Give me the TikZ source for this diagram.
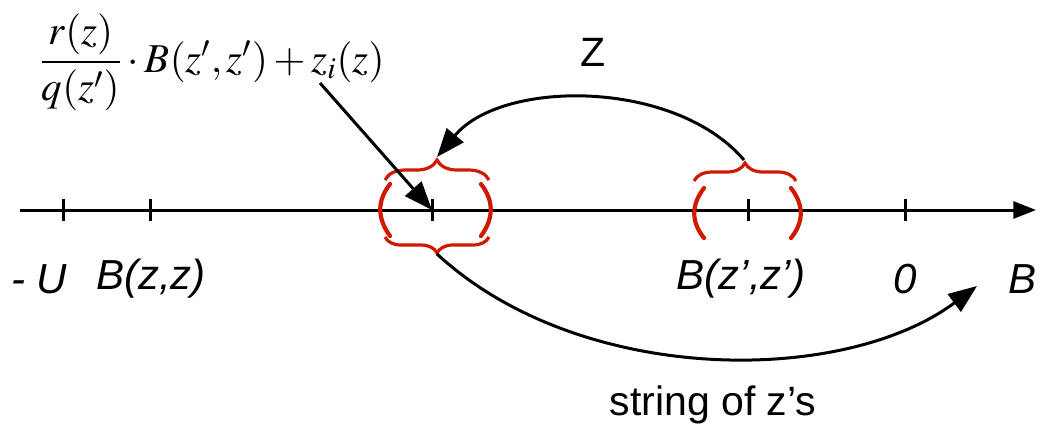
\documentclass[tikz,border=0pt]{standalone}
\usepackage{amsmath}
\usepackage{mathptmx}
\usepackage{fontspec}
\setmainfont{Liberation Sans}
\usepackage{tikz}
\usetikzlibrary{
  arrows.meta,
  decorations.pathreplacing
}
\definecolor{ink}{HTML}{000000}
\definecolor{brace}{HTML}{D01A00}
\newcommand{\lbl}[1]{\fontsize{21}{25}\selectfont\itshape #1}
\tikzset{
  axis/.style={
    -{Triangle[length=4mm,width=3mm]},
    line width=1.5pt,
    draw=ink
  },
  tick/.style={
    line width=1.5pt,
    draw=ink
  },
  flow/.style={
    -{Triangle[length=5mm,width=3.8mm]},
    line width=1.5pt,
    draw=ink
  },
  curly/.style={
    decorate,
    decoration={brace, amplitude=#1},
    line width=1.6pt,
    draw=brace
  },
  paren/.style={
    line width=2.1pt,
    draw=brace,
    line cap=round
  },
  axislabel/.style={
    font=\lbl,
    inner sep=1pt
  },
  plainlabel/.style={
    font=\fontsize{20.5}{24}\selectfont,
    inner sep=1pt
  }
}

\begin{document}
\begin{tikzpicture}[x=0.5pt, y=-0.5pt]
  \useasboundingbox (0,0) rectangle (1043,430);

  % number line
  \coordinate (start) at (20,210);
  \coordinate (end) at (1036,210);
  \draw[axis] (start) -- (end);
  \foreach \x/\name in {63/mu, 150/bzz, 432/bi, 748/bzp, 905/zero}
    \draw[tick] (\x,199) -- (\x,221) coordinate[pos=0.5] (\name);

  % labels under the line
  \node[axislabel] (lmu) at (39,279) {- U};
  \node[axislabel] (lbzz) at (151,279) {B(z,z)};
  \node[axislabel] (lbzp) at (741,279) {B(z’,z’)};
  \node[axislabel] (lzero) at (905,279) {0};
  \node[axislabel] (lb) at (1022,279) {B};

  % interval around the new value
  \draw[paren] (390,184) .. controls (377,201) and (377,218) .. (390,236);
  \draw[paren] (481,184) .. controls (494,201) and (494,218) .. (481,236);
  \draw[curly=10pt] (385,180) -- (489,180);
  \draw[curly=8pt] (489,237) -- (385,237);
  \coordinate (lefttop) at (437,157);
  \coordinate (leftbot) at (437,254);

  % interval around B(z',z')
  \draw[paren] (704,188) .. controls (691,205) and (691,222) .. (704,238);
  \draw[paren] (791,188) .. controls (804,205) and (804,222) .. (791,238);
  \draw[curly=9pt] (694,181) -- (796,181);
  \coordinate (righttop) at (744,160);

  % formula
  \node[font=\fontsize{20.5}{24}\selectfont] (formula) at (212,62)
    {$\dfrac{r(z)}{q(z')}\cdot B(z',z')+z_i(z)$};
  \coordinate (formtail) at (320,83);

  % connectors
  \draw[flow] (righttop) .. controls (675,79) and (502,79) .. (lefttop);
  \draw[flow] (formtail) -- (bi);
  \coordinate (tailtip) at (977,286);
  \draw[flow] (leftbot) .. controls (580,386) and (843,386) .. (tailtip);

  \node[plainlabel] (zlabel) at (593,52) {Z};
  \node[plainlabel] (string) at (713,405) {string of z’s};
\end{tikzpicture}
\end{document}
